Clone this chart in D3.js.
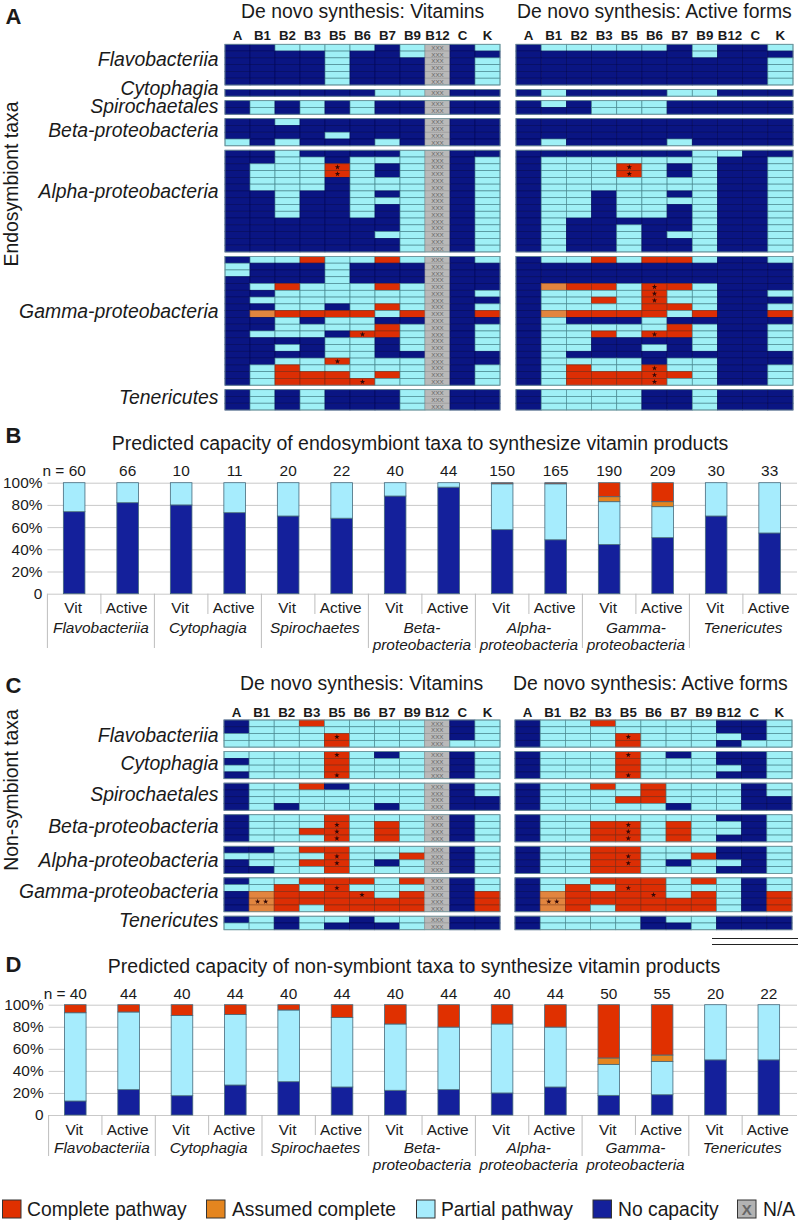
<!DOCTYPE html>
<html><head><meta charset="utf-8">
<script src="https://cdn.jsdelivr.net/npm/d3@7"></script>
<style>html,body{margin:0;padding:0;background:#fff}svg{display:block}text{font-family:"Liberation Sans",Arial,sans-serif;fill:#1a1a1a}</style>
</head><body><div id="c"></div>
<script>
// ---------- data ----------
const vitamins = ["A","B1","B2","B3","B5","B6","B7","B9","B12","C","K"];
// d none, p partial, r complete, o assumed, x n/a, R complete + *, S assumed + **
const endoTaxa = ["Flavobacteriia","Cytophagia","Spirochaetales","Beta-proteobacteria","Alpha-proteobacteria","Gamma-proteobacteria","Tenericutes"];
const endoVit = [
 ["ddppppdpxdp","ddddpddpxdd","ddddpdddxdp","ddddpdddxdp","ddddpdddxdp","ddddpdddxdp"],
 ["ddddddppxdd"],
 ["dpdpdpddxdd","dpdpdpddxdd"],
 ["ddpdddddxdd","ddddddddxdd","ddddpdddxdd","pdpdddpdxdd"],
 ["ddpddddpxdd","ddppdpppxdp","dpppRpdpxdp","dpppRpdpxdp","dpppdpppxdp","dpppdpppxdp","ddpddpdpxdp","ddpddpppxdp","ddpddpdpxdp","ddpddpdpxdp","dddddddpxdp","dddddddpxdp","ddddddppxdp","dddddddpxdp","dddddddpxdp"],
 ["dpprpprpxdp","pdddpdddxdd","pdddpdddxdd","ddddpdddxdd","dprppprpxdd","ddppppppxdp","dpppppppxdd","ddppdprpxdp","dorrrrprxdr","ddpdppddxdd","ddpppprpxdp","dpppdRrpxdp","ddddppdpxdp","ddpdppdpxdp","ddddppddxdd","ddppRpppxdd","dprpppppxdp","dprrrprpxdp","dprrrRppxdp"],
 ["dpdpdddpxdd","dpdpdddpxdd","dpdpdddpxdd"]
];
const endoAct = [
 ["dpppppdpddp","dddddddpddd","ddddddddddp","ddddddddddp","ddddddddddp","ddddddddddp"],
 ["dpddddppddd"],
 ["dpdpppddddd","dddpppddddd"],
 ["ddddddddddd","ddddddddddd","ddddddddddd","dpddddpdddd"],
 ["dddddddppdd","dpppppppddp","dpppRpdpddp","dpppRpdpddp","dpppppppddp","dpppppppddp","dppdppdpddp","dppdppppddp","dppdppdpddp","dppdppdpddp","dpdddddpddp","dpddpddpddp","dpddpdppddp","dpddpddpddp","dpddpddpddp"],
 ["dpprprrpddp","ddddddddddd","ddddddddddd","ddddddddddd","dorrpRrpddd","dppppRppddp","dpprpRppddd","dpppprrpddp","dorrrrprddr","dpdddpddddd","dppppprpddp","dpprpRrpddp","dppddddpddp","dppddpdpddp","dpddddddddd","dppppdppddd","dprppRppddp","dprrrRrpddp","dprrrRppddp"],
 ["dppppddpddd","dppppddpddd","dppppddpddd"]
];
const freeTaxa = ["Flavobacteriia","Cytophagia","Spirochaetales","Beta-proteobacteria","Alpha-proteobacteria","Gamma-proteobacteria","Tenericutes"];
const freeVit = [
 ["dpprppppxdp","dpppppppxdp","ppppRpppxdp","pppprpppxpp"],
 ["ppppRpdpxdp","dppprpppxdp","pppprpppxdp","dpppRpppxdp"],
 ["dpprdpppxdp","dpppppppxdp","dpppppppxdd","dpdpppdpxdd"],
 ["dppprpppxdp","dpppRprpxdp","dpprRprpxdp","dpppRprpxdp"],
 ["ddprrpppxdp","ppppRpprxdp","dpprRpdpxdp","ddpprpppxdp"],
 ["dpprrrprxdp","pprpRpppxdp","dorrrRprxdr","dSrrrrrrxdr","dorprrrrxdr"],
 ["dpdppdppxdd","ppdpdddpxdd"]
];
const freeAct = [
 ["dpprppppddp","dpppppppddp","dpppRppppdp","dppprpppdpp"],
 ["dpppRpdpddp","dppprpppddp","dppprppppdp","dpppRpppddp"],
 ["dpprprpppdp","dpppprpppdp","dppprrpppdd","dpppppdppdd"],
 ["dpppppppddp","dpprRprppdp","dpprRprppdp","dpprRprpddp"],
 ["dpprrpppddp","dpprRpprddp","dpprRpdppdp","dpprrpppddp"],
 ["dpprrrprpdp","dprpRrpppdp","dorrrRprpdr","dSrrrrrrpdr","dorprrrrpdr"],
 ["dppppdppddd","dppppddpddd"]
];
const barLabels = ["Vit","Active"];
const barGroupsB = [["Flavobacteriia"],["Cytophagia"],["Spirochaetes"],["Beta-","proteobacteria"],["Alpha-","proteobacteria"],["Gamma-","proteobacteria"],["Tenericutes"]];
const barGroupsD = barGroupsB;
const nB = [60,66,10,11,20,22,40,44,150,165,190,209,30,33];
const nD = [40,44,40,44,40,44,40,44,40,44,50,55,20,22];
const noneB     = [73.9,82,80,73,70,68,88,96,57.7,48.6,44.4,50.5,70,54.7];
const partialB  = [26.1,18,20,27,30,32,12,4,41.3,50.4,38.5,27.9,30,45.3];
const assumedB  = [0,0,0,0,0,0,0,0,0,0,4.5,4.5,0,0];
const completeB = [0,0,0,0,0,0,0,0,1,1,12.6,17.1,0,0];
const noneD     = [12.7,23,17.5,27.2,30.2,25.4,22.4,23,20,25.4,17.8,18.4,50,50];
const partialD  = [80,70.4,72.8,64,65,63.1,60.1,56.7,62.5,54.3,28.1,30.2,50,50];
const assumedD  = [0,0,0,0,0,0,0,0,0,0,5.8,5.8,0,0];
const completeD = [7.3,6.6,9.7,8.8,4.8,11.5,17.5,20.3,17.5,20.3,48.3,45.6,0,0];
const yTicks = [0,20,40,60,80,100];
const legendItems = ["Complete pathway","Assumed complete","Partial pathway","No capacity","N/A"];

// ---------- style ----------
const heatFill = {d:"#0a1583",p:"#9ff0f6",r:"#dc2e04",R:"#dc2e04",o:"#e2853f",S:"#e2853f",x:"#b9b9b9"};
const heatStroke = {d:"#040a5e",p:"#4a8a92",r:"#8a2a10",R:"#8a2a10",o:"#a05a28",S:"#a05a28",x:"#9a9a9a"};
const barColors = {none:"#14209b",partial:"#a6ecfd",assumed:"#e4851f",complete:"#e03000"};

const svg = d3.select("#c").append("svg").attr("width",800).attr("height",1222);
function txt(x,y,s,size,opt={}){
  const t = svg.append("text").attr("x",x).attr("y",y).attr("font-size",size).text(s);
  if(opt.anchor) t.attr("text-anchor",opt.anchor);
  if(opt.italic) t.attr("font-style","italic");
  if(opt.bold) t.attr("font-weight","bold");
  if(opt.rotate) t.attr("transform",`rotate(-90 ${x} ${y})`);
  return t;
}
const star = d3.symbol().type(d3.symbolStar).size(9);

function heat(groups,x0,x1,y0,labelY,title,titleX,titleY){
  const x = d3.scaleBand().domain(vitamins).range([x0,x1]);
  const rowH = 6.78, gap = 4.45;
  txt(titleX,titleY,title,19.4);
  vitamins.forEach(v=>txt(x(v)+x.bandwidth()/2,labelY,v,13.3,{anchor:"middle",bold:true}));
  let top = y0;
  groups.forEach(rows=>{
    const y = d3.scaleLinear().domain([0,rows.length]).range([top,top+rows.length*rowH]);
    const g = svg.append("g");
    rows.forEach((row,ri)=>{
      vitamins.forEach((v,ci)=>{
        const c = row[ci];
        g.append("rect").attr("x",x(v)).attr("y",y(ri)).attr("width",x.bandwidth()).attr("height",y(ri+1)-y(ri))
         .attr("fill",heatFill[c]).attr("stroke",heatStroke[c]).attr("stroke-width",0.7);
        const cy=(y(ri)+y(ri+1))/2, cx=x(v)+x.bandwidth()/2;
        if(c==="x") g.append("text").attr("x",cx).attr("y",cy+2.2).attr("text-anchor","middle").attr("font-size",6.2).style("fill","#666").text("XXX");
        if(c==="R") g.append("path").attr("d",star).attr("transform",`translate(${cx},${cy})`).attr("fill","#300808");
        if(c==="S") [-4,4].forEach(d=>g.append("path").attr("d",star).attr("transform",`translate(${cx+d},${cy})`).attr("fill","#300808"));
      });
    });
    g.append("rect").attr("x",x0).attr("y",top).attr("width",x1-x0).attr("height",rows.length*rowH)
     .attr("fill","none").attr("stroke","#6f959c").attr("stroke-width",0.8);
    top += rows.length*rowH+gap;
  });
}

function stacked(yZero,yHundred,xStart,band,series,ns,groups,o){
  const n = ns.length;
  const idx = d3.range(n);
  const x = d3.scaleBand().domain(idx).range([xStart,xStart+band*n]);
  const y = d3.scaleLinear().domain([0,100]).range([yZero,yHundred]);
  const gridEnd = 797;
  const ax = svg.append("g").attr("transform",`translate(${xStart},0)`)
    .call(d3.axisLeft(y).tickValues(yTicks).tickSize(-(gridEnd-xStart)).tickPadding(5).tickFormat(d=>d===0?"0":d+"%"));
  ax.select(".domain").remove();
  ax.selectAll("line").attr("stroke","#c9c9c9").attr("stroke-width",1);
  ax.selectAll("text").attr("font-size",15.4).attr("font-family",'"Liberation Sans",Arial,sans-serif').style("fill","#1a1a1a");
  const keys = ["none","partial","assumed","complete"];
  const rows = idx.map(i=>({i,none:series.none[i],partial:series.partial[i],assumed:series.assumed[i],complete:series.complete[i]}));
  const stack = d3.stack().keys(keys)(rows);
  const barW = 21.6;
  svg.append("g").selectAll("g").data(stack).join("g").attr("fill",d=>barColors[d.key])
    .selectAll("rect").data(d=>d.filter(s=>s[1]-s[0]>0)).join("rect")
    .attr("x",d=>x(d.data.i)+(x.bandwidth()-barW)/2).attr("width",barW)
    .attr("y",d=>y(d[1])).attr("height",d=>y(d[0])-y(d[1]))
    .attr("stroke","#466a7c").attr("stroke-width",0.8);
  idx.forEach(i=>{
    const cx = x(i)+x.bandwidth()/2;
    txt(i===0?cx-10:cx,o.nY,(i===0?"n = ":"")+ns[i],15.4,{anchor:"middle"});
    txt(cx-1,o.catY,barLabels[i%2],15.4,{anchor:"middle"});
    const lineEnd = i%2===0?o.longEnd:o.shortEnd;
    svg.append("line").attr("x1",x(i)).attr("x2",x(i)).attr("y1",yZero).attr("y2",lineEnd).attr("stroke","#bdbdbd").attr("stroke-width",1);
  });
  groups.forEach((g,gi)=>{
    const cx = x(gi*2)+x.bandwidth();
    g.forEach((s,li)=>txt(cx,o.groupY+li*17.4,s,15.4,{anchor:"middle",italic:true}));
  });
}

// ---------- panel A ----------
txt(5.5,24,"A",22,{bold:true});
txt(18,184,"Endosymbiont taxa",19.4,{anchor:"middle",rotate:true});
heat(endoVit,225,500,44.3,40,"De novo synthesis: Vitamins",241,18);
heat(endoAct,516,793,44.3,40,"De novo synthesis: Active forms",517,18);
const labelYA=[66,95.3,113.3,136.7,198,318,404];
endoTaxa.forEach((t,i)=>txt(218.5,labelYA[i],t,19.4,{anchor:"end",italic:true}));

// ---------- panel B ----------
txt(5.5,443,"B",22,{bold:true});
txt(420,450,"Predicted capacity of endosymbiont taxa to synthesize vitamin products",19.5,{anchor:"middle"});
stacked(593.7,482.7,47.4,53.5,{none:noneB,partial:partialB,assumed:assumedB,complete:completeB},nB,barGroupsB,{nY:476,catY:612.5,groupY:632.5,longEnd:648,shortEnd:614});

// ---------- panel C ----------
txt(5.5,693,"C",22,{bold:true});
txt(18,790,"Non-symbiont taxa",19.4,{anchor:"middle",rotate:true});
heat(freeVit,224,500,720,716.7,"De novo synthesis: Vitamins",240,690);
heat(freeAct,515,792,720,716.7,"De novo synthesis: Active forms",513,690);
const labelYC=[741.7,770,800.7,833.3,867.3,898.3,927.3];
freeTaxa.forEach((t,i)=>txt(218.5,labelYC[i],t,19.4,{anchor:"end",italic:true}));
[938.5,944.5].forEach(y=>svg.append("line").attr("x1",712).attr("x2",798).attr("y1",y).attr("y2",y).attr("stroke","#222").attr("stroke-width",1));

// ---------- panel D ----------
txt(5.5,972,"D",22,{bold:true});
txt(414,973,"Predicted capacity of non-symbiont taxa to synthesize vitamin products",19.5,{anchor:"middle"});
stacked(1115,1004.7,48.6,53.35,{none:noneD,partial:partialD,assumed:assumedD,complete:completeD},nD,barGroupsD,{nY:998.7,catY:1135,groupY:1152.7,longEnd:1156,shortEnd:1135});

// ---------- legend ----------
const legendFill=["#e03000","#e4851f","#a6ecfd","#14209b","#b3b3b3"];
const legendSq=[2,206,416,592.5,737];
const legendTx=[27,232,441,618,763];
legendItems.forEach((s,i)=>{
  svg.append("rect").attr("x",legendSq[i]+0.5).attr("y",1200).attr("width",18.5).attr("height",18).attr("fill",legendFill[i]).attr("stroke","#333").attr("stroke-width",1);
  txt(legendTx[i],1216,s,19.3);
});
svg.append("text").attr("x",legendSq[4]+9.7).attr("y",1215).attr("text-anchor","middle").attr("font-size",15).attr("font-weight","bold").style("fill","#666").text("X");
</script></body></html>
